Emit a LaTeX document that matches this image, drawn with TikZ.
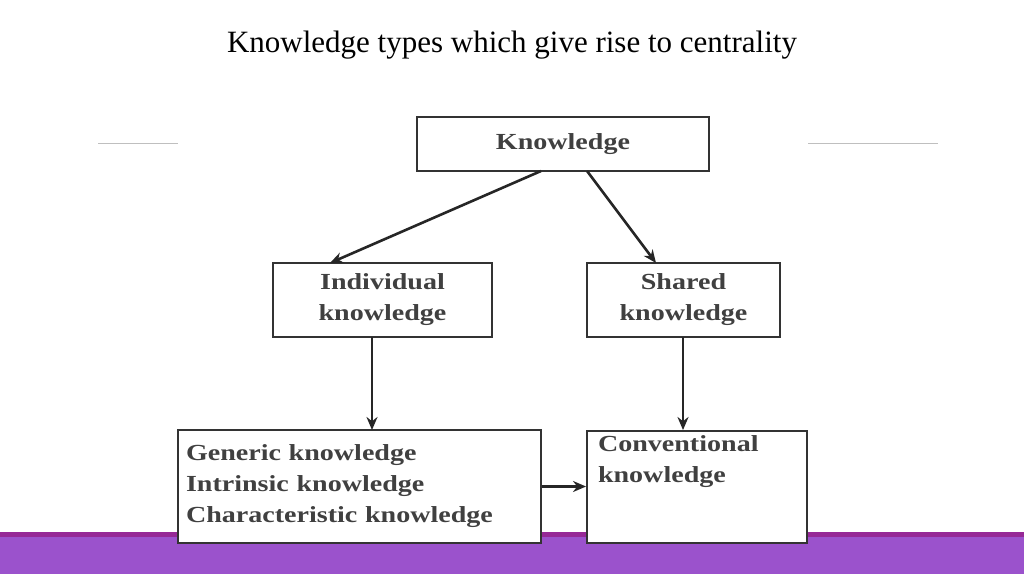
\documentclass[tikz,border=0pt]{standalone}
\usepackage{fontspec}
\usetikzlibrary{arrows.meta}
\setmainfont{Liberation Serif}
\newfontfamily\boxfont[FakeStretch=1.22]{Liberation Serif}
\begin{document}
\begin{tikzpicture}[x=1pt,y=-1pt,
  box/.style={draw=black!80,line width=2pt,fill=white,inner sep=0pt,font=\boxfont\fontsize{23}{31}\selectfont\bfseries,text=black!75},
  arr/.style={-{Stealth[length=13pt,width=11pt]},line width=2.6pt,black!85}]
\useasboundingbox (0,0) rectangle (1024,574);
\fill[white] (0,0) rectangle (1024,574);
\node[font=\fontsize{31}{36}\selectfont] (title) at (512,45) {Knowledge types which give rise to centrality};
\draw[gray!50,line width=0.8pt] (98,143) -- (178,143) (808,143) -- (938,143);
\fill[fill={rgb,255:red,155;green,82;blue,204}] (0,537) rectangle (1024,574);
\fill[fill={rgb,255:red,150;green,40;blue,150}] (0,532) rectangle (1024,537);
\node[box,minimum width=292,minimum height=54] (k) at (563,144) {Knowledge};
\node[box,minimum width=219,minimum height=74,align=center] (ind) at (382.5,300) {Individual\\knowledge};
\node[box,minimum width=193,minimum height=74,align=center] (sh) at (683.5,300) {Shared\\knowledge};
\node[box,minimum width=363,minimum height=113,align=left,text width=347] (gen) at (359.5,486.5) {Generic knowledge\\Intrinsic knowledge\\Characteristic knowledge};
\node[box,minimum width=220,minimum height=111,align=left,text width=198,anchor=north] (con) at (697,430) {\rule{0pt}{20pt}Conventional\\knowledge\\[1.3em]\mbox{}};
\draw[arr] (541,171) -- (330,263);
\draw[arr] (587,171) -- (656,263);
\draw[arr] (372,337) -- (372,430);
\draw[arr] (683,337) -- (683,430);
\draw[arr] (gen.east) -- (con.west|-gen.east);
\end{tikzpicture}
\end{document}
